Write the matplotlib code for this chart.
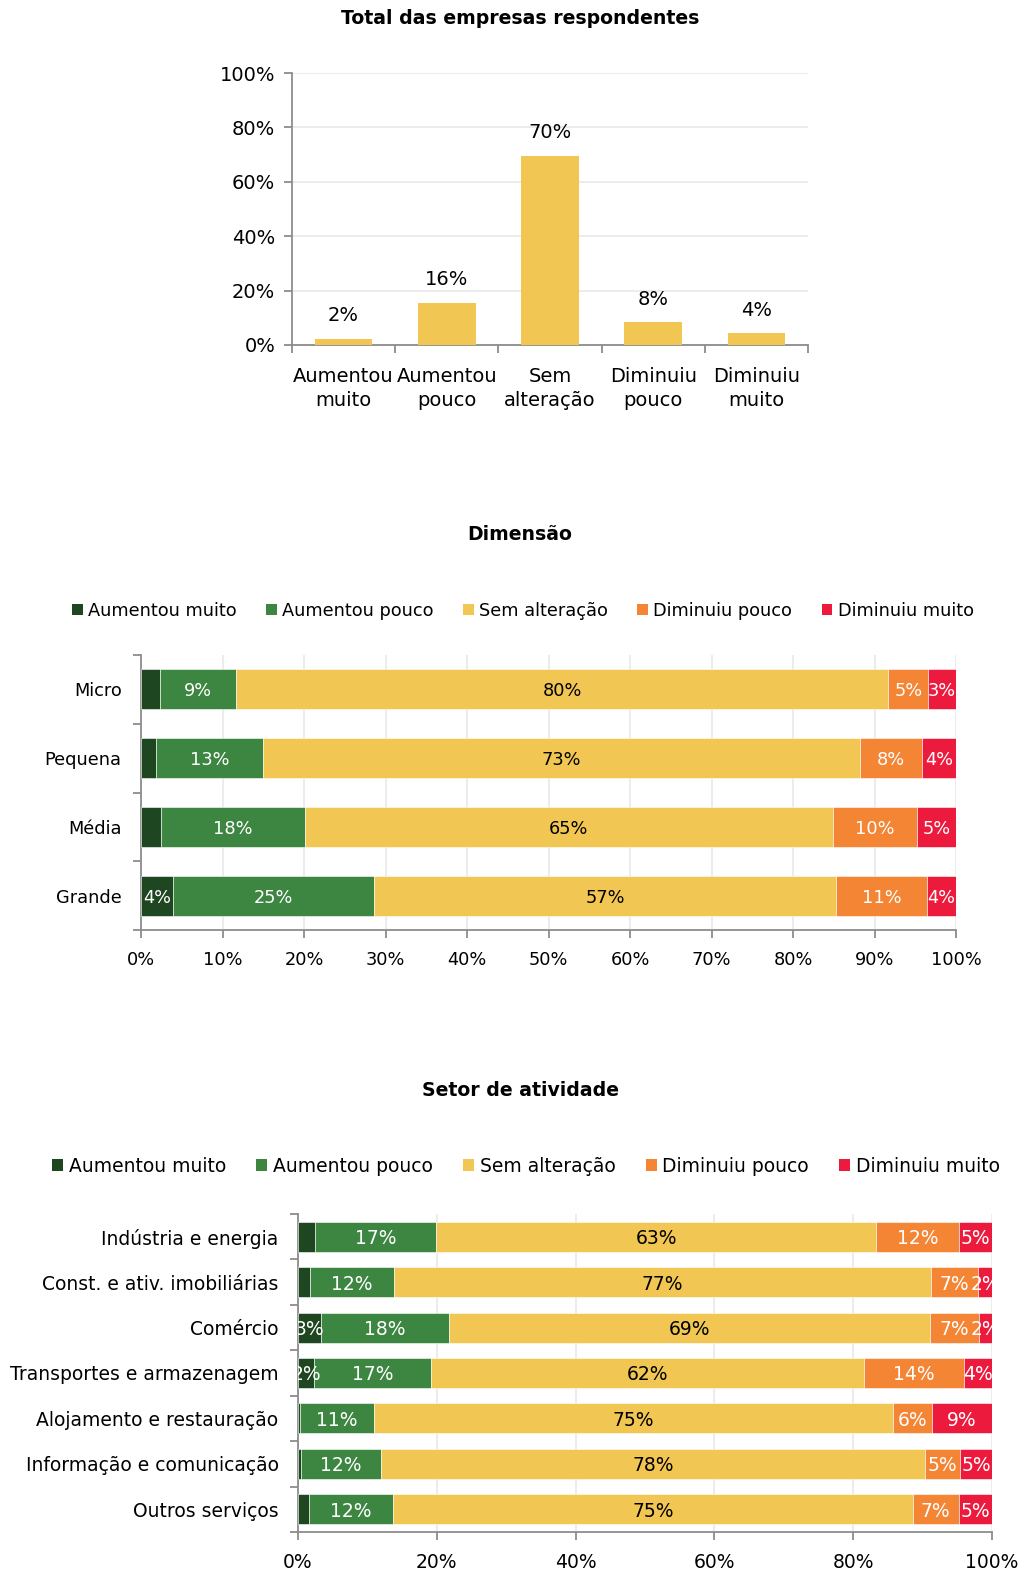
import matplotlib
matplotlib.use("Agg")
import matplotlib.pyplot as plt
from matplotlib.patches import Patch
import numpy as np

plt.rcParams['font.family'] = ['DejaVu Sans']

# ---------------- data ----------------
series = ["Aumentou muito", "Aumentou pouco", "Sem alteração", "Diminuiu pouco", "Diminuiu muito"]
top_labels = ["Aumentou\nmuito", "Aumentou\npouco", "Sem\nalteração", "Diminuiu\npouco", "Diminuiu\nmuito"]
top_values = [2.2, 15.6, 69.5, 8.4, 4.3]

dim_cats = ["Micro", "Pequena", "Média", "Grande"]
dim_am = [2.3, 1.8, 2.5, 3.9]
dim_ap = [9.3, 13.2, 17.6, 24.7]
dim_sa = [80.1, 73.2, 64.8, 56.7]
dim_dp = [4.9, 7.6, 10.3, 11.1]
dim_dm = [3.4, 4.2, 4.8, 3.6]
dim_am_show = [False, False, False, True]

set_cats = ["Indústria e energia", "Const. e ativ. imobiliárias", "Comércio",
            "Transportes e armazenagem", "Alojamento e restauração",
            "Informação e comunicação", "Outros serviços"]
set_am = [2.5, 1.8, 3.3, 2.3, 0.3, 0.4, 1.6]
set_ap = [17.4, 12.0, 18.4, 16.8, 10.7, 11.6, 12.1]
set_sa = [63.4, 77.4, 69.3, 62.4, 74.7, 78.3, 74.9]
set_dp = [11.9, 6.8, 7.1, 14.4, 5.7, 5.1, 6.6]
set_dm = [4.8, 2.0, 1.9, 4.1, 8.6, 4.6, 4.8]
set_am_show = [False, False, True, True, False, False, False]

colors = ["#1E4620", "#3C8641", "#F2C652", "#F38535", "#EC1B3E"]
text_colors = ["white", "white", "black", "white", "white"]
grid_c = "#EBEBEB"
spine_c = "#8C8C8C"

W, H = 1024, 1571
fig = plt.figure(figsize=(W / 100, H / 100), dpi=100)


def rect(l, r, t, b):
    return [l / W, 1 - b / H, (r - l) / W, (b - t) / H]


def style_spines(ax):
    for s in ["top", "right"]:
        ax.spines[s].set_visible(False)
    for s in ["left", "bottom"]:
        ax.spines[s].set_color(spine_c)
        ax.spines[s].set_linewidth(1.3)


# ---------------- top chart ----------------
ax1 = fig.add_axes(rect(292, 808, 73, 345))
x = np.arange(len(top_values))
ax1.bar(x, top_values, width=0.56, color=colors[2], zorder=3)
for xi, v in zip(x, top_values):
    ax1.text(xi, v + 5, f"{round(v)}%", ha="center", va="bottom", fontsize=14, color="black")
ax1.set_xlim(-0.5, len(top_values) - 0.5)
ax1.set_ylim(0, 100)
ax1.set_yticks(range(0, 101, 20))
ax1.set_yticklabels([f"{t}%" for t in range(0, 101, 20)], fontsize=14)
ax1.set_xticks(x)
ax1.set_xticklabels(top_labels, fontsize=14, linespacing=1.3)
ax1.set_xticks(np.arange(-0.5, len(top_values), 1), minor=True)
ax1.tick_params(axis="x", which="major", length=0, pad=16)
ax1.tick_params(axis="x", which="minor", length=6, color=spine_c, width=1.3)
ax1.tick_params(axis="y", length=6, color=spine_c, width=1.3, pad=6)
ax1.yaxis.grid(True, color=grid_c, linewidth=1.3, zorder=0)
ax1.set_axisbelow(True)
style_spines(ax1)
fig.text(520 / W, 1 - 19 / H, "Total das empresas respondentes", ha="center", va="center",
         fontsize=13.6, fontweight="bold")


# ---------------- stacked horizontal chart helper ----------------
def stacked(ax, cats, data, show_first, bar_h, fs, step):
    y = np.arange(len(cats))
    left = np.zeros(len(cats))
    for si, vals in enumerate(data):
        vals = np.array(vals)
        ax.barh(y, vals, left=left, height=bar_h, color=colors[si], zorder=3,
                edgecolor="white", linewidth=0.4)
        for yi in range(len(cats)):
            if si == 0 and not show_first[yi]:
                continue
            ax.text(left[yi] + vals[yi] / 2, y[yi], f"{round(vals[yi])}%", ha="center",
                    va="center_baseline", fontsize=fs, color=text_colors[si], clip_on=True,
                    zorder=4)
        left = left + vals
    ax.set_xlim(0, 100)
    ax.set_ylim(len(cats) - 0.5, -0.5)
    ax.set_yticks(y)
    ax.set_yticklabels(cats, fontsize=fs)
    ax.set_yticks(np.arange(-0.5, len(cats), 1), minor=True)
    ax.tick_params(axis="y", which="major", length=0, pad=14)
    ax.tick_params(axis="y", which="minor", length=6, color=spine_c, width=1.3)
    ax.set_xticks(range(0, 101, step))
    ax.set_xticklabels([f"{t}%" for t in range(0, 101, step)], fontsize=fs)
    ax.tick_params(axis="x", length=6, color=spine_c, width=1.3, pad=9)
    ax.xaxis.grid(True, color=grid_c, linewidth=1.3, zorder=0)
    ax.set_axisbelow(True)
    style_spines(ax)


# ---------------- Dimensão ----------------
ax2 = fig.add_axes(rect(141, 956, 655, 930))
stacked(ax2, dim_cats, [dim_am, dim_ap, dim_sa, dim_dp, dim_dm], dim_am_show, 0.58, 12.8, 10)
fig.text(520 / W, 1 - 534 / H, "Dimensão", ha="center", va="center", fontsize=13.6, fontweight="bold")
handles = [Patch(facecolor=c, edgecolor="none") for c in colors]
fig.legend(handles, series, loc="center", bbox_to_anchor=(523 / W, 1 - 611 / H), ncol=5,
           frameon=False, fontsize=12.8, handlelength=0.6, handleheight=0.6,
           handletextpad=0.3, columnspacing=1.65)

# ---------------- Setor ----------------
ax3 = fig.add_axes(rect(298, 992, 1214, 1532))
stacked(ax3, set_cats, [set_am, set_ap, set_sa, set_dp, set_dm], set_am_show, 0.66, 13.5, 20)
fig.text(520 / W, 1 - 1090 / H, "Setor de atividade", ha="center", va="center", fontsize=13.6,
         fontweight="bold")
fig.legend(handles, series, loc="center", bbox_to_anchor=(526 / W, 1 - 1166 / H), ncol=5,
           frameon=False, fontsize=13.5, handlelength=0.6, handleheight=0.6,
           handletextpad=0.3, columnspacing=1.6)

fig.savefig("out.png", dpi=100)
